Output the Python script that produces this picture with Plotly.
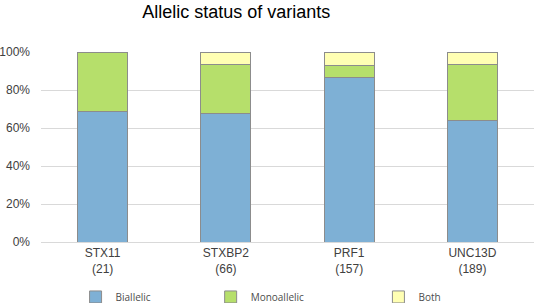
import plotly.graph_objects as go

categories = ["STX11<br>(21)", "STXBP2<br>(66)", "PRF1<br>(157)", "UNC13D<br>(189)"]
biallelic = [0.686, 0.674, 0.867, 0.637]
monoallelic = [0.314, 0.261, 0.063, 0.295]
both = [0.0, 0.065, 0.070, 0.068]

series = [
    ("Biallelic", biallelic, "#7EB0D5", "legend"),
    ("Monoallelic", monoallelic, "#B6DF6B", "legend2"),
    ("Both", both, "#FFFFB3", "legend3"),
]

fig = go.Figure()
for name, vals, color, leg in series:
    fig.add_trace(go.Bar(
        x=categories, y=vals, name=name, legend=leg,
        marker=dict(color=color, line=dict(color="#8C8C8C", width=1)),
    ))

legend_font = dict(family="Open Sans, Liberation Sans", size=10, color="#4D4D4D")
def leg(xpos):
    return dict(orientation="h", xref="container", x=xpos, xanchor="left",
                yref="container", y=0.02, yanchor="middle",
                font=legend_font, bgcolor="rgba(0,0,0,0)")

fig.update_layout(
    barmode="stack",
    bargap=0.594,
    width=536, height=303,
    margin=dict(l=41, r=2, t=52, b=61, autoexpand=False),
    paper_bgcolor="white", plot_bgcolor="white",
    title=dict(text="Allelic status of variants", xref="paper", x=0.396, xanchor="center",
               yref="container", y=0.962, yanchor="middle",
               font=dict(family="Liberation Sans, Arial", size=18, color="black")),
    font=dict(family="Liberation Sans, Arial", size=12, color="#404040"),
    showlegend=True,
    legend=leg(0.141),
    legend2=leg(0.393),
    legend3=leg(0.706),
)
fig.update_yaxes(range=[0, 1], tickformat=".0%", dtick=0.2, showgrid=True,
                 gridcolor="#D9D9D9", gridwidth=1, zeroline=False, showline=False,
                 ticks="", ticklabelstandoff=10, tickfont=dict(size=12), automargin=False)
fig.update_xaxes(showline=True, linecolor="#D9D9D9", linewidth=1, ticks="",
                 tickfont=dict(size=12), automargin=False)

fig.write_html("out.html", config={"displayModeBar": False},
               post_script="document.body.style.margin='0';")
